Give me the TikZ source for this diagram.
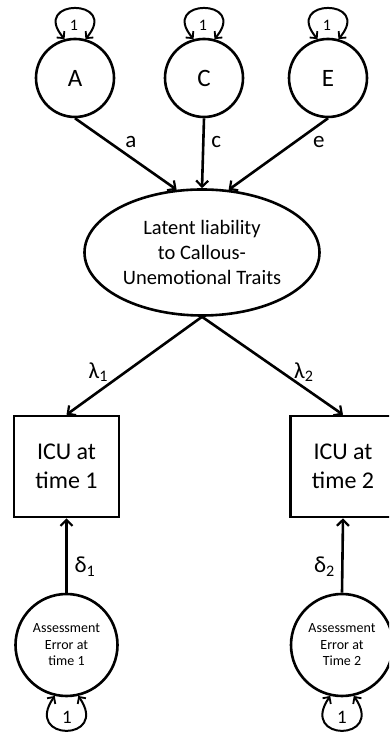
\documentclass[tikz,border=0pt]{standalone}
\usepackage{fontspec}
\setmainfont{Carlito}
\usetikzlibrary{arrows.meta,shapes.geometric}
\begin{document}
\begin{tikzpicture}[x=1pt,y=1pt,
  lw/.style={line width=2.6pt},
  arr/.style={lw,-{Straight Barb[length=6pt,width=12pt,line width=2.2pt]}},
  darr/.style={line width=2pt,{Straight Barb[length=5pt,width=10pt,line width=1.8pt]}-{Straight Barb[length=5pt,width=10pt,line width=1.8pt]}},
  fac/.style={circle,draw,lw,minimum size=78pt,inner sep=0pt,font=\fontsize{25}{30}\selectfont},
  err/.style={circle,draw,lw,minimum size=102pt,inner sep=0pt,align=center,font=\fontsize{14}{16.5}\selectfont},
  obs/.style={rectangle,draw,lw,minimum width=105pt,minimum height=101pt,inner sep=0pt,align=center,font=\fontsize{24}{29}\selectfont},
  lat/.style={ellipse,draw,lw,minimum width=235pt,minimum height=126pt,inner sep=0pt,align=center,font=\fontsize{20.5}{25}\selectfont},
  lab/.style={font=\fontsize{23}{28}\selectfont,inner sep=0pt},
  one/.style={font=\fontsize{16}{18}\selectfont,inner sep=0pt}]
\useasboundingbox (0,0) rectangle (389,735);
\clip (0,0) rectangle (389,735);

\node[fac] (A) at (75,657) {A};
\node[fac] (C) at (204,657) {C};
\node[fac] (E) at (328,657) {E};

\node[lat] (L) at (202,482.5) {Latent liability\\to Callous-\\Unemotional Traits};

\node[obs] (B1) at (66.5,268.5) {ICU at\\time 1};
\node[obs] (B2) at (343,268.5) {ICU at\\time 2};

\node[err] (R1) at (66.5,90) {Assessment\\Error at\\time 1};
\node[err] (R2) at (342,90) {Assessment\\Error at\\Time 2};

% self loops on top factors
\foreach \n in {A,C,E}{
  \draw[darr] (\n.105) .. controls +(-35,41) and +(35,41) .. (\n.75);
}
\node[one] (oA) at (74,710) {1};
\node[one] (oC) at (203,710) {1};
\node[one] (oE) at (327,710) {1};

% paths to latent
\draw[arr] (A.south) -- node[pos=0.333,lab,xshift=22pt]{a} (L.112);
\draw[arr] (C.south) -- node[pos=0.34,lab,xshift=13pt]{c} (L.north);
\draw[arr] (E.south) -- node[pos=0.333,lab,xshift=24pt]{e} (L.67);

% loadings
\draw[arr] (L.south) -- node[pos=0.566,lab,xshift=-27pt]{λ\textsubscript{1}} (B1.north);
\draw[arr] (L.south) -- node[pos=0.566,lab,xshift=22pt]{λ\textsubscript{2}} (B2.north);

% errors
\draw[arr] (R1.north) -- node[pos=0.35,lab,xshift=18.5pt]{δ\textsubscript{1}} (B1.south);
\draw[arr] (R2.north) -- node[pos=0.35,lab,xshift=-18pt]{δ\textsubscript{2}} (B2.south);

% bottom loops
\draw[darr] (R1.257) .. controls +(-32,-46) and +(32,-46) .. (R1.283);
\draw[darr] (R2.257) .. controls +(-32,-46) and +(32,-46) .. (R2.283);
\node[one,font=\fontsize{19}{21}\selectfont] (o1) at (67,18) {1};
\node[one,font=\fontsize{19}{21}\selectfont] (o2) at (342,18) {1};
\end{tikzpicture}
\end{document}
